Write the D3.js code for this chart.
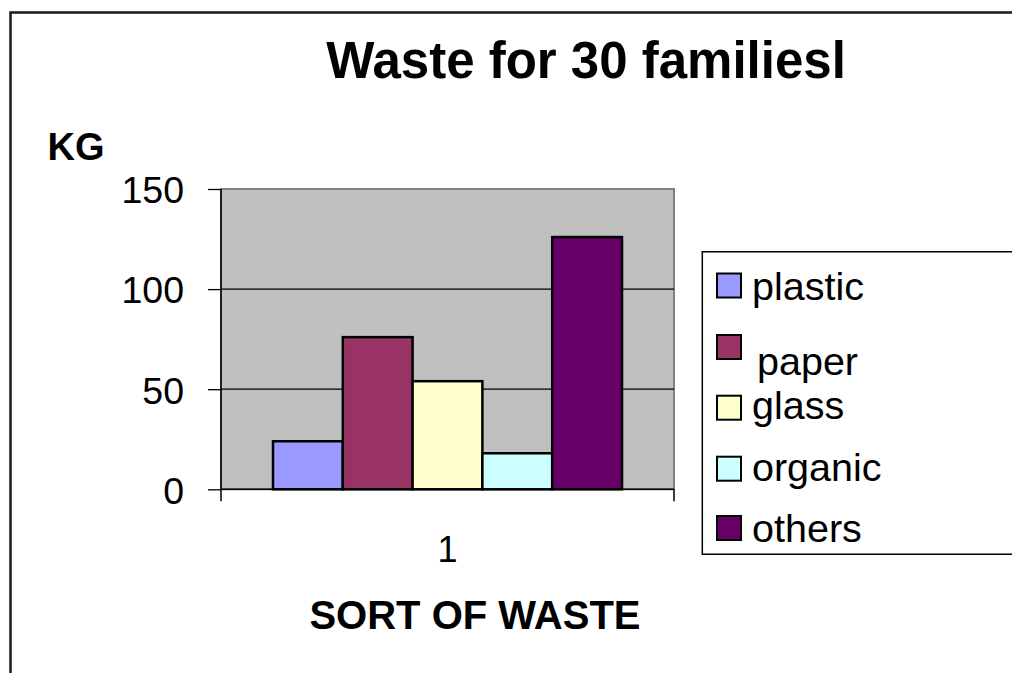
<!DOCTYPE html>
<html>
<head>
<meta charset="utf-8">
<script src="https://cdn.jsdelivr.net/npm/d3@7/dist/d3.min.js"></script>
<style>
  html, body { margin: 0; padding: 0; background: #fff; }
  svg { display: block; font-family: "Liberation Sans", Arial, sans-serif; }
</style>
</head>
<body>
<svg id="chart" width="1012" height="673"></svg>
<script>
// ---- data ----
const categories = ["1"];
const seriesNames = ["plastic", "paper", "glass", "organic", "others"];
const seriesValues = [24, 76, 54, 18, 126];
const seriesColors = ["#9999FF", "#993366", "#FFFFCC", "#CCFFFF", "#660066"];
const yTicks = [0, 50, 100, 150];
const titleText = "Waste for 30 familiesl";
const yTitle = "KG";
const xTitle = "SORT OF WASTE";

const svg = d3.select("#chart");

// outer chart frame (top + left visible)
svg.append("path")
  .attr("d", "M10.5,673 L10.5,12.5 L1012,12.5")
  .attr("fill", "none").attr("stroke", "#1a1a1a").attr("stroke-width", 2.5);

const plot = { left: 221, right: 674, top: 189, bottom: 489.3 };

const y = d3.scaleLinear().domain([0, 150]).range([plot.bottom, plot.top]);
const x0 = d3.scaleBand().domain(categories).range([plot.left, plot.right])
  .paddingInner(0).paddingOuter(0.149);
const x1 = d3.scaleBand().domain(seriesNames).range([0, x0.bandwidth()]).padding(0);

// plot background
svg.append("rect")
  .attr("x", plot.left).attr("y", plot.top)
  .attr("width", plot.right - plot.left).attr("height", plot.bottom - plot.top)
  .attr("fill", "#C0C0C0").attr("stroke", "#808080").attr("stroke-width", 2);

// gridlines
svg.append("g").selectAll("line").data(yTicks.filter(t => t > 0 && t < 150)).join("line")
  .attr("x1", plot.left).attr("x2", plot.right)
  .attr("y1", d => y(d)).attr("y2", d => y(d))
  .attr("stroke", "#000").attr("stroke-width", 1.3);

// bars
const data = seriesNames.map((n, i) => ({ name: n, value: seriesValues[i], color: seriesColors[i] }));
svg.append("g").selectAll("rect").data(data).join("rect")
  .attr("x", d => x0(categories[0]) + x1(d.name))
  .attr("y", d => y(d.value))
  .attr("width", x1.bandwidth())
  .attr("height", d => y(0) - y(d.value))
  .attr("fill", d => d.color)
  .attr("stroke", "#000").attr("stroke-width", 2.5);

// y axis
const yAxis = d3.axisLeft(y).tickValues(yTicks).tickSizeInner(13).tickSizeOuter(0).tickPadding(24);
const yg = svg.append("g").attr("transform", `translate(${plot.left},0)`).call(yAxis);
yg.select(".domain").remove();
yg.selectAll(".tick line").attr("stroke", "#000").attr("stroke-width", 1.3);
yg.selectAll(".tick text").attr("font-size", 37.5).attr("fill", "#000")
  .attr("font-family", "Liberation Sans, Arial, sans-serif").attr("dy", "0.37em");
svg.append("line").attr("x1", plot.left).attr("x2", plot.left)
  .attr("y1", plot.top).attr("y2", plot.bottom + 12)
  .attr("stroke", "#000").attr("stroke-width", 1.5);

// x axis
svg.append("line").attr("x1", plot.left).attr("x2", plot.right)
  .attr("y1", plot.bottom).attr("y2", plot.bottom)
  .attr("stroke", "#000").attr("stroke-width", 1.5);
svg.append("line").attr("x1", plot.right).attr("x2", plot.right)
  .attr("y1", plot.bottom).attr("y2", plot.bottom + 12)
  .attr("stroke", "#000").attr("stroke-width", 1.5);
svg.append("g").selectAll("text").data(categories).join("text")
  .attr("x", d => x0(d) + x0.bandwidth() / 2).attr("y", 562)
  .attr("text-anchor", "middle").attr("font-size", 36).text(d => d);

// titles
svg.append("text").attr("x", 586).attr("y", 78).attr("text-anchor", "middle")
  .attr("font-size", 51).attr("font-weight", "bold").text(titleText);
svg.append("text").attr("x", 76).attr("y", 160).attr("text-anchor", "middle")
  .attr("font-size", 38).attr("font-weight", "bold").text(yTitle);
svg.append("text").attr("x", 475).attr("y", 629).attr("text-anchor", "middle")
  .attr("font-size", 40).attr("font-weight", "bold").text(xTitle);

// legend
svg.append("path")
  .attr("d", "M1013,251.7 L702.3,251.7 L702.3,554.3 L1013,554.3")
  .attr("fill", "#fff").attr("stroke", "#000").attr("stroke-width", 1.5);
const swatchY = [273.5, 335, 395.7, 456.7, 516];
const textY = [300, 375, 418.5, 481, 541.5];
const textX = [752, 757, 752, 752, 752];
const lg = svg.append("g");
lg.selectAll("rect").data(data).join("rect")
  .attr("x", 717).attr("y", (d, i) => swatchY[i]).attr("width", 24).attr("height", 24)
  .attr("fill", d => d.color).attr("stroke", "#000").attr("stroke-width", 2);
lg.selectAll("text").data(data).join("text")
  .attr("x", (d, i) => textX[i]).attr("y", (d, i) => textY[i])
  .attr("font-size", 39.5).text(d => d.name);
</script>
</body>
</html>
